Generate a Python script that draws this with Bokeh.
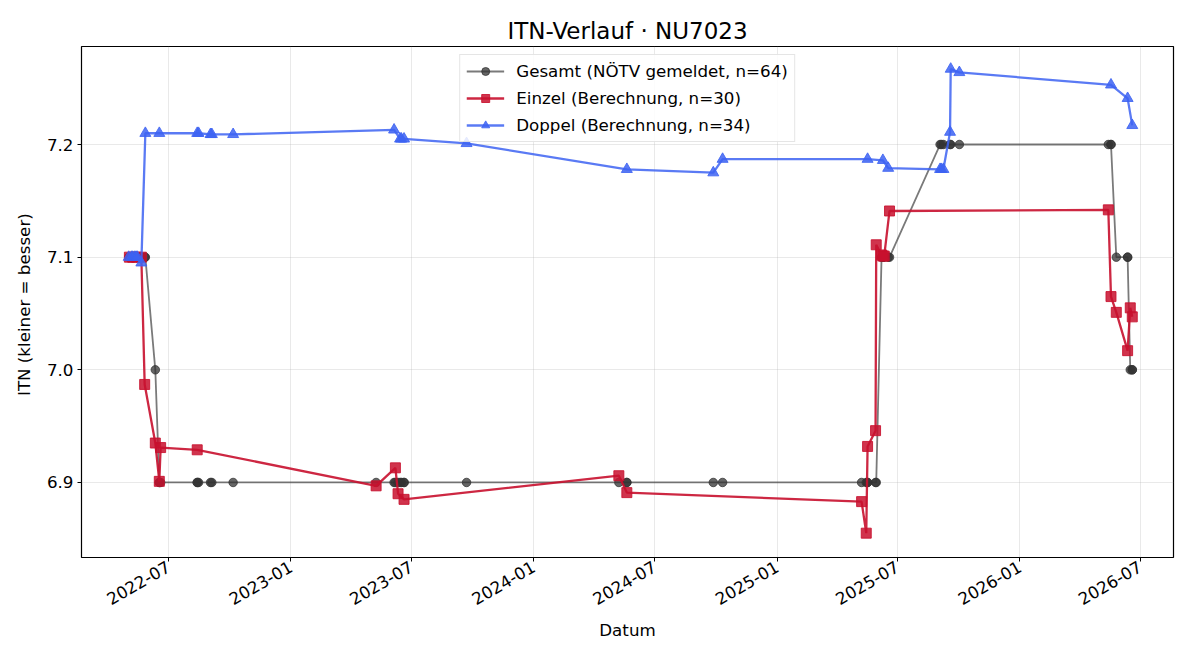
import pandas as pd
from datetime import datetime
from math import pi
from bokeh.plotting import figure
from bokeh.models import Range1d, FixedTicker, MonthsTicker, DatetimeTickFormatter, NumeralTickFormatter
from bokeh.embed import file_html
from bokeh.resources import INLINE

# ---- data ----
gesamt_dates = [
    "2022-05-02", "2022-05-03", "2022-05-06", "2022-05-08", "2022-05-08", "2022-05-11",
    "2022-05-13", "2022-05-14", "2022-05-15", "2022-05-21", "2022-05-21", "2022-05-26",
    "2022-05-27", "2022-06-11", "2022-06-17", "2022-06-17", "2022-06-19", "2022-08-13",
    "2022-08-13", "2022-08-15", "2022-09-02", "2022-09-04", "2022-10-06", "2023-05-09",
    "2023-06-05", "2023-06-07", "2023-06-11", "2023-06-14", "2023-06-16", "2023-06-20",
    "2023-06-20", "2023-09-22", "2024-05-08", "2024-05-20", "2024-05-20", "2024-09-27",
    "2024-10-11", "2025-05-08", "2025-05-15", "2025-05-17", "2025-05-17", "2025-05-29",
    "2025-05-30", "2025-06-07", "2025-06-09", "2025-06-09", "2025-06-11", "2025-06-17",
    "2025-06-19", "2025-09-03", "2025-09-05", "2025-09-08", "2025-09-18", "2025-09-19",
    "2025-10-02", "2026-05-14", "2026-05-18", "2026-05-18", "2026-05-26", "2026-06-12",
    "2026-06-12", "2026-06-16", "2026-06-19", "2026-06-19",
]
gesamt_itn = [
    7.1, 7.1, 7.1, 7.1, 7.1, 7.1,
    7.1, 7.1, 7.1, 7.1, 7.1, 7.1,
    7.1, 7.0, 6.9, 6.9, 6.9, 6.9,
    6.9, 6.9, 6.9, 6.9, 6.9, 6.9,
    6.9, 6.9, 6.9, 6.9, 6.9, 6.9,
    6.9, 6.9, 6.9, 6.9, 6.9, 6.9,
    6.9, 6.9, 6.9, 6.9, 6.9, 6.9,
    6.9, 7.1, 7.1, 7.1, 7.1, 7.1,
    7.1, 7.2, 7.2, 7.2, 7.2, 7.2,
    7.2, 7.2, 7.2, 7.2, 7.1, 7.1,
    7.1, 7.0, 7.0, 7.0,
]

einzel_dates = [
    "2022-05-03", "2022-05-08", "2022-05-14", "2022-05-21", "2022-05-26", "2022-06-11",
    "2022-06-17", "2022-06-19", "2022-08-13", "2023-05-09", "2023-06-07", "2023-06-11",
    "2023-06-20", "2024-05-08", "2024-05-20", "2025-05-08", "2025-05-15", "2025-05-17",
    "2025-05-29", "2025-05-30", "2025-06-07", "2025-06-09", "2025-06-11", "2025-06-19",
    "2026-05-14", "2026-05-18", "2026-05-26", "2026-06-12", "2026-06-16", "2026-06-19",
]
einzel_itn = [
    7.100, 7.100, 7.100, 7.100, 6.987, 6.935,
    6.901, 6.931, 6.929, 6.897, 6.913, 6.890,
    6.885, 6.906, 6.891, 6.883, 6.855, 6.932,
    6.946, 7.111, 7.102, 7.101, 7.101, 7.141,
    7.142, 7.065, 7.051, 7.017, 7.055, 7.047,
]

doppel_dates = [
    "2022-05-02", "2022-05-06", "2022-05-08", "2022-05-11", "2022-05-13", "2022-05-15",
    "2022-05-21", "2022-05-27", "2022-06-17", "2022-08-13", "2022-08-15", "2022-09-02",
    "2022-09-04", "2022-10-06", "2023-06-05", "2023-06-14", "2023-06-16", "2023-06-20",
    "2023-09-22", "2024-05-20", "2024-09-27", "2024-10-11", "2025-05-17", "2025-06-09",
    "2025-06-17", "2025-09-03", "2025-09-05", "2025-09-08", "2025-09-18", "2025-09-19",
    "2025-10-02", "2026-05-18", "2026-06-12", "2026-06-19",
]
doppel_itn = [
    7.100, 7.100, 7.100, 7.100, 7.100, 7.100,
    7.095, 7.210, 7.210, 7.210, 7.210, 7.209,
    7.209, 7.209, 7.213, 7.205, 7.205, 7.205,
    7.201, 7.178, 7.175, 7.187, 7.187, 7.186,
    7.179, 7.178, 7.178, 7.178, 7.211, 7.267,
    7.264, 7.253, 7.241, 7.217,
]

series_labels = [
    "Gesamt (NÖTV gemeldet, n=64)",
    "Einzel (Berechnung, n=30)",
    "Doppel (Berechnung, n=34)",
]
y_ticks = [6.9, 7.0, 7.1, 7.2]

FONT = "DejaVu Sans"
FS = "16.7px"

p = figure(
    width=1200, height=660,
    x_axis_type="datetime",
    output_backend="svg",
    toolbar_location=None,
    title="ITN-Verlauf · NU7023",
    x_range=Range1d(datetime(2022, 2, 20), datetime(2026, 8, 20)),
    y_range=Range1d(6.8334, 7.287),
    min_border_left=81, min_border_right=27,
    min_border_top=46, min_border_bottom=103,
)
p.background_fill_color = "white"
p.border_fill_color = "white"
p.outline_line_color = "black"
p.outline_line_width = 1.2

p.title.align = "center"
p.title.text_font = FONT
p.title.text_font_size = "23px"
p.title.text_font_style = "normal"
p.title.text_color = "black"
p.title.standoff = 6

g_x = pd.to_datetime(gesamt_dates)
e_x = pd.to_datetime(einzel_dates)
d_x = pd.to_datetime(doppel_dates)

# Gesamt
p.line(g_x, gesamt_itn, line_color="#333333", line_alpha=0.65, line_width=1.8,
       legend_label=series_labels[0])
p.scatter(g_x, gesamt_itn, marker="circle", size=8.5, fill_color="#333333", fill_alpha=0.75,
          line_color="#333333", line_alpha=0.75, legend_label=series_labels[0])

# Einzel
p.line(e_x, einzel_itn, line_color="#c8102e", line_alpha=0.9, line_width=2.3,
       legend_label=series_labels[1])
p.scatter(e_x, einzel_itn, marker="square", size=10, fill_color="#c8102e", fill_alpha=0.85,
          line_color="#c8102e", line_alpha=0.85, legend_label=series_labels[1])

# Doppel
p.line(d_x, doppel_itn, line_color="#3d63f2", line_alpha=0.85, line_width=2.3,
       legend_label=series_labels[2])
p.scatter(d_x, doppel_itn, marker="triangle", size=11, fill_color="#3d63f2", fill_alpha=0.85,
          line_color="#3d63f2", line_alpha=0.85, legend_label=series_labels[2])

# axes (BokehJS month indices are 0-based: 0 = January, 6 = July)
p.xaxis.ticker = MonthsTicker(months=[0, 6])
p.xaxis.formatter = DatetimeTickFormatter(months="%Y-%m", days="%Y-%m", years="%Y-%m")
p.xaxis.major_label_orientation = pi / 6
p.yaxis.ticker = FixedTicker(ticks=y_ticks)
p.yaxis.formatter = NumeralTickFormatter(format="0.0")
p.xaxis.axis_label = "Datum"
p.yaxis.axis_label = "ITN  (kleiner = besser)"
for ax in (p.xaxis[0], p.yaxis[0]):
    ax.axis_label_text_font = FONT
    ax.axis_label_text_font_size = FS
    ax.axis_label_text_font_style = "normal"
    ax.axis_label_text_color = "black"
    ax.major_label_text_font = FONT
    ax.major_label_text_font_size = FS
    ax.major_label_text_color = "black"
    ax.axis_line_color = None
    ax.major_tick_line_color = "black"
    ax.major_tick_out = 4
    ax.major_tick_in = 0
    ax.minor_tick_line_color = None
    ax.major_label_standoff = 4
p.xaxis.axis_label_standoff = 6
p.yaxis.axis_label_standoff = 10

p.xgrid.grid_line_color = "#b0b0b0"
p.xgrid.grid_line_alpha = 0.35
p.ygrid.grid_line_color = "#b0b0b0"
p.ygrid.grid_line_alpha = 0.35
p.xgrid.grid_line_width = 0.8
p.ygrid.grid_line_width = 0.8

# legend
lg = p.legend[0]
lg.location = "top_center"
lg.label_text_font = FONT
lg.label_text_font_size = FS
lg.label_text_color = "black"
lg.border_line_color = "#cccccc"
lg.border_line_width = 1
lg.background_fill_color = "white"
lg.background_fill_alpha = 0.85
lg.glyph_width = 38
lg.glyph_height = 20
lg.label_height = 20
lg.label_standoff = 12
lg.spacing = 7
lg.padding = 6
lg.margin = 8

open("out.html", "w").write(file_html(p, INLINE))
